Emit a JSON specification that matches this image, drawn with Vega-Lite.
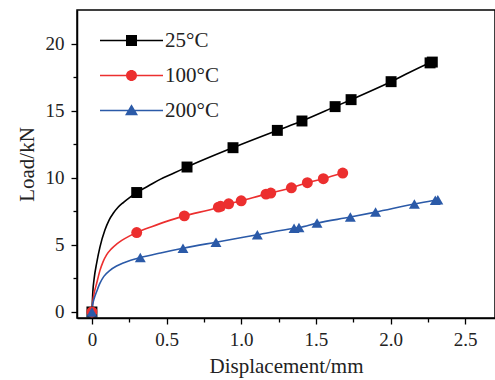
{
  "$schema": "https://vega.github.io/schema/vega-lite/v6.json",
  "width": 418,
  "height": 308,
  "autosize": {"type": "none"},
  "padding": {"left": 77, "top": 10, "right": 0, "bottom": 62},
  "background": "white",
  "config": {
    "view": {"stroke": "black", "strokeWidth": 1.5},
    "font": "Liberation Serif",
    "axis": {
      "domainColor": "black", "domainWidth": 1.5, "tickColor": "black", "tickWidth": 1.3,
      "labelFont": "Liberation Serif", "labelFontSize": 19, "labelColor": "#222",
      "titleFont": "Liberation Serif", "titleFontSize": 21, "titleFontWeight": "normal", "titleColor": "#222",
      "grid": false
    },
    "legend": {"labelFont": "Liberation Serif"}
  },
  "data": {
    "values": [
      {"series": "25°C", "x": 0, "y": 0, "m": true},
      {"series": "25°C", "x": 0.006, "y": 1.5, "m": false},
      {"series": "25°C", "x": 0.015, "y": 2.5, "m": false},
      {"series": "25°C", "x": 0.031, "y": 3.6, "m": false},
      {"series": "25°C", "x": 0.054, "y": 4.85, "m": false},
      {"series": "25°C", "x": 0.087, "y": 6.1, "m": false},
      {"series": "25°C", "x": 0.115, "y": 6.85, "m": false},
      {"series": "25°C", "x": 0.143, "y": 7.35, "m": false},
      {"series": "25°C", "x": 0.175, "y": 7.8, "m": false},
      {"series": "25°C", "x": 0.21, "y": 8.15, "m": false},
      {"series": "25°C", "x": 0.25, "y": 8.5, "m": false},
      {"series": "25°C", "x": 0.3, "y": 8.9, "m": true},
      {"series": "25°C", "x": 0.38, "y": 9.4, "m": false},
      {"series": "25°C", "x": 0.46, "y": 9.9, "m": false},
      {"series": "25°C", "x": 0.55, "y": 10.35, "m": false},
      {"series": "25°C", "x": 0.637, "y": 10.8, "m": true},
      {"series": "25°C", "x": 0.945, "y": 12.24, "m": true},
      {"series": "25°C", "x": 1.242, "y": 13.53, "m": true},
      {"series": "25°C", "x": 1.407, "y": 14.23, "m": true},
      {"series": "25°C", "x": 1.629, "y": 15.3, "m": true},
      {"series": "25°C", "x": 1.736, "y": 15.82, "m": true},
      {"series": "25°C", "x": 2.004, "y": 17.16, "m": true},
      {"series": "25°C", "x": 2.265, "y": 18.56, "m": true},
      {"series": "25°C", "x": 2.28, "y": 18.62, "m": true},
      {"series": "100°C", "x": 0, "y": 0, "m": true},
      {"series": "100°C", "x": 0.006, "y": 0.8, "m": false},
      {"series": "100°C", "x": 0.015, "y": 1.4, "m": false},
      {"series": "100°C", "x": 0.031, "y": 2.1, "m": false},
      {"series": "100°C", "x": 0.054, "y": 3.1, "m": false},
      {"series": "100°C", "x": 0.075, "y": 3.75, "m": false},
      {"series": "100°C", "x": 0.098, "y": 4.25, "m": false},
      {"series": "100°C", "x": 0.13, "y": 4.7, "m": false},
      {"series": "100°C", "x": 0.165, "y": 5.05, "m": false},
      {"series": "100°C", "x": 0.2, "y": 5.33, "m": false},
      {"series": "100°C", "x": 0.25, "y": 5.65, "m": false},
      {"series": "100°C", "x": 0.3, "y": 5.92, "m": true},
      {"series": "100°C", "x": 0.4, "y": 6.35, "m": false},
      {"series": "100°C", "x": 0.5, "y": 6.75, "m": false},
      {"series": "100°C", "x": 0.619, "y": 7.16, "m": true},
      {"series": "100°C", "x": 0.847, "y": 7.81, "m": true},
      {"series": "100°C", "x": 0.862, "y": 7.87, "m": true},
      {"series": "100°C", "x": 0.916, "y": 8.06, "m": true},
      {"series": "100°C", "x": 1.0, "y": 8.28, "m": true},
      {"series": "100°C", "x": 1.166, "y": 8.78, "m": true},
      {"series": "100°C", "x": 1.198, "y": 8.86, "m": true},
      {"series": "100°C", "x": 1.336, "y": 9.25, "m": true},
      {"series": "100°C", "x": 1.443, "y": 9.63, "m": true},
      {"series": "100°C", "x": 1.55, "y": 9.93, "m": true},
      {"series": "100°C", "x": 1.68, "y": 10.35, "m": true},
      {"series": "200°C", "x": 0, "y": 0, "m": true},
      {"series": "200°C", "x": 0.006, "y": 0.6, "m": false},
      {"series": "200°C", "x": 0.015, "y": 1.0, "m": false},
      {"series": "200°C", "x": 0.031, "y": 1.5, "m": false},
      {"series": "200°C", "x": 0.054, "y": 2.15, "m": false},
      {"series": "200°C", "x": 0.08, "y": 2.65, "m": false},
      {"series": "200°C", "x": 0.121, "y": 3.1, "m": false},
      {"series": "200°C", "x": 0.165, "y": 3.42, "m": false},
      {"series": "200°C", "x": 0.21, "y": 3.65, "m": false},
      {"series": "200°C", "x": 0.26, "y": 3.85, "m": false},
      {"series": "200°C", "x": 0.324, "y": 4.05, "m": true},
      {"series": "200°C", "x": 0.46, "y": 4.4, "m": false},
      {"series": "200°C", "x": 0.61, "y": 4.75, "m": true},
      {"series": "200°C", "x": 0.831, "y": 5.2, "m": true},
      {"series": "200°C", "x": 1.108, "y": 5.75, "m": true},
      {"series": "200°C", "x": 1.354, "y": 6.24, "m": true},
      {"series": "200°C", "x": 1.387, "y": 6.29, "m": true},
      {"series": "200°C", "x": 1.508, "y": 6.62, "m": true},
      {"series": "200°C", "x": 1.731, "y": 7.07, "m": true},
      {"series": "200°C", "x": 1.9, "y": 7.44, "m": true},
      {"series": "200°C", "x": 2.16, "y": 8.04, "m": true},
      {"series": "200°C", "x": 2.3, "y": 8.33, "m": true},
      {"series": "200°C", "x": 2.317, "y": 8.36, "m": true}
    ]
  },
  "transform": [{"calculate": "datum.series", "as": "sym"}],
  "encoding": {
    "x": {
      "field": "x", "type": "quantitative",
      "scale": {"domain": [-0.1, 2.7], "nice": false, "zero": false},
      "axis": {
        "title": "Displacement/mm",
        "values": [0, 0.25, 0.5, 0.75, 1, 1.25, 1.5, 1.75, 2, 2.25, 2.5],
        "labelExpr": "(datum.value * 2) % 1 != 0 ? '' : (datum.value == 0 ? '0' : format(datum.value, '.1f'))",
        "tickSize": {"condition": {"test": "(datum.value * 2) % 1 != 0", "value": 4}, "value": 6},
        "labelFont": "Liberation Serif",
        "labelFontSize": 19,
        "labelPadding": 6,
        "titlePadding": 6
      }
    },
    "y": {
      "field": "y", "type": "quantitative",
      "scale": {"domain": [-0.45, 22.5], "nice": false, "zero": false},
      "axis": {
        "title": "Load/kN",
        "values": [0, 2.5, 5, 7.5, 10, 12.5, 15, 17.5, 20],
        "labelExpr": "(datum.value / 5) % 1 != 0 ? '' : format(datum.value, 'd')",
        "tickSize": {"condition": {"test": "(datum.value / 5) % 1 != 0", "value": 4}, "value": 6},
        "labelFont": "Liberation Serif",
        "labelFontSize": 19,
        "labelPadding": 7,
        "titlePadding": 8
      }
    }
  },
  "layer": [
    {
      "mark": {"type": "line", "interpolate": "monotone", "strokeWidth": 1.6},
      "encoding": {
        "color": {"field": "series", "type": "nominal", "legend": null,
          "scale": {"domain": ["25°C", "100°C", "200°C"], "range": ["#000000", "#ec2f2f", "#2b5aa8"]}},
        "detail": {"field": "series"}
      }
    },
    {
      "transform": [{"filter": "datum.m"}],
      "mark": {"type": "point", "filled": true, "opacity": 1, "size": 120},
      "encoding": {
        "color": {"field": "series", "type": "nominal", "legend": null,
          "scale": {"domain": ["25°C", "100°C", "200°C"], "range": ["#000000", "#ec2f2f", "#2b5aa8"]}},
        "shape": {"field": "sym", "type": "nominal", "legend": null,
          "scale": {"domain": ["25°C", "100°C", "200°C"], "range": ["square", "circle", "triangle-up"]}}
      }
    },
    {
      "transform": [{"filter": "datum.m"}],
      "mark": {"type": "point", "filled": true, "opacity": 0, "size": 100},
      "encoding": {
        "color": {"field": "series", "type": "nominal",
          "scale": {"domain": ["25°C", "100°C", "200°C"], "range": ["#000000", "#ec2f2f", "#2b5aa8"]},
          "legend": {
            "title": null,
            "orient": "none",
            "legendX": 44,
            "legendY": 20,
            "padding": 0,
            "symbolSize": 100,
            "symbolOpacity": 1,
            "labelFont": "Liberation Serif",
            "labelFontSize": 21,
            "labelColor": "#222",
            "labelOffset": 23,
            "rowPadding": 13
          }
        },
        "shape": {"field": "series", "type": "nominal",
          "scale": {"domain": ["25°C", "100°C", "200°C"], "range": [
            "M-6.3,-0.16H6.3V0.16H-6.3ZM-1.1,-1.1H1.1V1.1H-1.1Z",
            "M-6.3,-0.16H6.3V0.16H-6.3ZM1.1,0A1.1,1.1,0,1,1,-1.1,0A1.1,1.1,0,1,1,1.1,0Z",
            "M-6.3,-0.16H6.3V0.16H-6.3ZM0,-1.25L1.3,0.95H-1.3Z"
          ]},
          "legend": {
            "title": null,
            "orient": "none",
            "legendX": 44,
            "legendY": 20,
            "padding": 0,
            "symbolSize": 100,
            "symbolOpacity": 1,
            "labelFont": "Liberation Serif",
            "labelFontSize": 21,
            "labelColor": "#222",
            "labelOffset": 23,
            "rowPadding": 13
          }
        }
      }
    }
  ],
  "resolve": {
    "scale": {"shape": "independent"},
    "legend": {"color": "independent", "shape": "independent"}
  }
}
